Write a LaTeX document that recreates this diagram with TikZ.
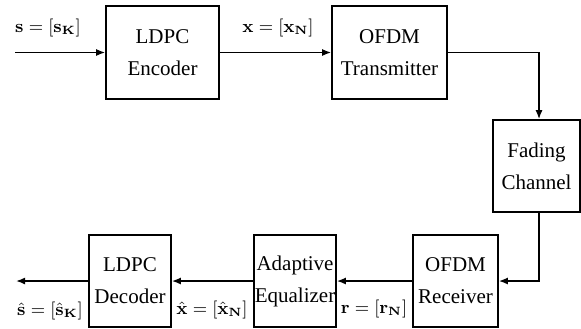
\documentclass[tikz,border=0pt]{standalone}
\usepackage[no-math]{fontspec}
\setmainfont{Liberation Serif}
\usetikzlibrary{arrows.meta}
\begin{document}
\begin{tikzpicture}[x=0.5pt,y=-0.5pt,
  blk/.style={draw,line width=0.8pt,inner sep=0pt,align=center,
    font=\fontsize{10.5}{16}\selectfont},
  conn/.style={line width=0.8pt},
  arr/.style={conn,-{Latex[length=4.5pt,width=3.5pt]}},
  lbl/.style={inner sep=0pt,font=\fontsize{9}{11}\selectfont}]
\useasboundingbox (0,0) rectangle (581,328);
\node[blk,minimum width=56.5pt,minimum height=46.5pt] (enc) at (162.5,52.5) {LDPC\\Encoder};
\node[blk,minimum width=57.5pt,minimum height=46.5pt] (tx) at (389.5,52.5) {OFDM\\Transmitter};
\node[blk,minimum width=43.5pt,minimum height=46pt] (fad) at (536.5,166) {Fading\\Channel};
\node[blk,minimum width=42.5pt,minimum height=46pt] (rx) at (455.5,281) {OFDM\\Receiver};
\node[blk,minimum width=41pt,minimum height=46pt] (eq) at (295,281) {Adaptive\\Equalizer};
\node[blk,minimum width=41pt,minimum height=46pt] (dec) at (130,281) {LDPC\\Decoder};
\coordinate (in) at (15,52.5);
\coordinate (out) at (16,281);
\coordinate (c1) at (539,52.5);
\draw[arr] (in) -- (enc.west);
\draw[arr] (enc.east) -- (tx.west);
\draw[arr] (tx.east) -- (c1) -- (c1 |- fad.north);
\draw[arr] (c1 |- fad.south) |- (rx.east);
\draw[arr] (rx.west) -- (eq.east);
\draw[arr] (eq.west) -- (dec.east);
\draw[arr] (dec.west) -- (out);
\node[lbl] (ls) at (48,28) {$\mathbf{s}=[\mathbf{s}_{\mathbf{K}}]$};
\node[lbl] (lx) at (278,28) {$\mathbf{x}=[\mathbf{x}_{\mathbf{N}}]$};
\node[lbl] (lr) at (374,309) {$\mathbf{r}=[\mathbf{r}_{\mathbf{N}}]$};
\node[lbl] (lxh) at (212,310) {$\hat{\mathbf{x}}=[\hat{\mathbf{x}}_{\mathbf{N}}]$};
\node[lbl] (lsh) at (50,311) {$\hat{\mathbf{s}}=[\hat{\mathbf{s}}_{\mathbf{K}}]$};
\end{tikzpicture}
\end{document}
